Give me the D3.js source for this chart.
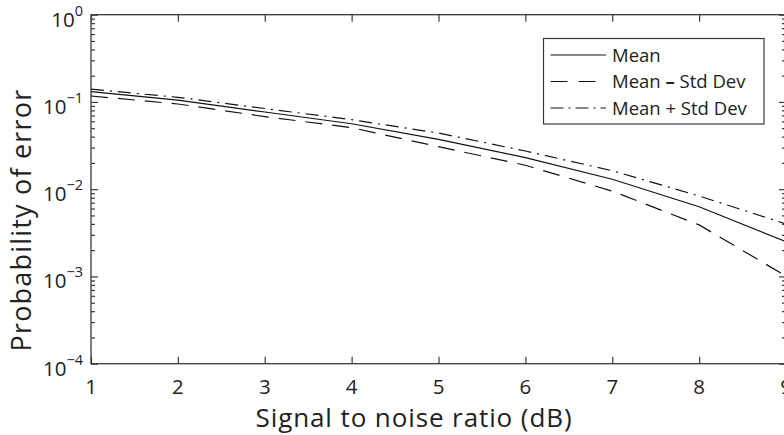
<!DOCTYPE html>
<html><head><meta charset="utf-8">
<script src="https://cdn.jsdelivr.net/npm/d3@7"></script>
<style>
body{margin:0;background:#fff;overflow:hidden}
text{font-family:"Open Sans",sans-serif;fill:#222}
</style>
</head><body>
<svg id="c" width="784" height="435"></svg>
<script>
// ---- data ----
const snrDb      = [1, 2, 3, 4, 5, 6, 7, 8, 9];
const meanVals   = [0.131, 0.105, 0.0767, 0.0563, 0.0373, 0.0230, 0.0130, 0.0063, 0.0025];
const minusVals  = [0.117, 0.0948, 0.068, 0.0507, 0.0307, 0.0188, 0.0095, 0.0039, 0.00101];
const plusVals   = [0.140, 0.113, 0.0841, 0.0626, 0.0440, 0.0274, 0.0163, 0.00836, 0.0040];
const xTicks     = [1, 2, 3, 4, 5, 6, 7, 8, 9];
const yTickExps  = [0, -1, -2, -3, -4];
const seriesNames = ["Mean", "Mean – Std Dev", "Mean + Std Dev"];

// ---- layout ----
const L = 91, R = 786, T = 14.7, B = 363.7;
const svg = d3.select("#c");
const x = d3.scaleLinear().domain([1, 9]).range([L, R]);
const y = d3.scaleLog().domain([1e-4, 1]).range([B, T]);

const majorY = yTickExps.map(e => Math.pow(10, e));
const minorY = [];
for (let e = -4; e < 0; e++) for (let m = 2; m <= 9; m++) minorY.push(m * Math.pow(10, e));

const axisColor = "#3a3a3a";
function styleAxis(g) {
  g.select(".domain").remove();
  g.selectAll(".tick line").attr("stroke", axisColor).attr("stroke-width", 1.2);
  g.selectAll(".tick text").remove();
}

// frame
svg.append("rect").attr("x", L).attr("y", T).attr("width", R - L).attr("height", B - T)
  .attr("fill", "none").attr("stroke", axisColor).attr("stroke-width", 1.3);

// x ticks bottom and top (inward)
svg.append("g").attr("transform", `translate(0,${B})`)
  .call(d3.axisTop(x).tickValues(xTicks).tickSize(7)).call(styleAxis);
svg.append("g").attr("transform", `translate(0,${T})`)
  .call(d3.axisBottom(x).tickValues(xTicks).tickSize(7)).call(styleAxis);
// y ticks left and right (inward)
svg.append("g").attr("transform", `translate(${L},0)`)
  .call(d3.axisRight(y).tickValues(majorY).tickSize(7)).call(styleAxis);
svg.append("g").attr("transform", `translate(${L},0)`)
  .call(d3.axisRight(y).tickValues(minorY).tickSize(4)).call(styleAxis);
svg.append("g").attr("transform", `translate(${R},0)`)
  .call(d3.axisLeft(y).tickValues(majorY).tickSize(7)).call(styleAxis);
svg.append("g").attr("transform", `translate(${R},0)`)
  .call(d3.axisLeft(y).tickValues(minorY).tickSize(4)).call(styleAxis);

// x tick labels
svg.append("g").selectAll("text").data(xTicks).join("text")
  .attr("x", d => x(d)).attr("y", B + 30)
  .attr("text-anchor", "middle").attr("font-size", 20.5)
  .text(d => d);

// y tick labels 10^e
const yl = svg.append("g").selectAll("text").data(yTickExps).join("text")
  .attr("x", 83).attr("y", d => y(Math.pow(10, d)) + 12)
  .attr("text-anchor", "end").attr("font-size", 20.5);
yl.append("tspan").text("10");
yl.append("tspan").attr("dy", -11).attr("font-size", 14.5)
  .text(d => d === 0 ? "0" : "−" + Math.abs(d));

// axis titles
svg.append("text").attr("x", 414).attr("y", 427).attr("text-anchor", "middle")
  .attr("font-size", 26).attr("letter-spacing", 0.9).text("Signal to noise ratio (dB)");
svg.append("text").attr("transform", "translate(31,220) rotate(-90)")
  .attr("text-anchor", "middle").attr("font-size", 27).attr("letter-spacing", 1.2)
  .text("Probability of error");

// clip
svg.append("clipPath").attr("id", "clip").append("rect")
  .attr("x", L).attr("y", T).attr("width", R - L).attr("height", B - T);

const dashes = [null, "17,10", "13,6,2,6"];
const allSeries = [meanVals, minusVals, plusVals];
const line = d3.line().x((d, i) => x(snrDb[i])).y(d => y(d));
const lg = svg.append("g").attr("clip-path", "url(#clip)");
allSeries.forEach((vals, k) => {
  lg.append("path").datum(vals).attr("d", line)
    .attr("fill", "none").attr("stroke", "#111").attr("stroke-width", 1.2)
    .attr("stroke-dasharray", dashes[k]);
});

// legend
const legX = 543.5, legY = 38.5, legW = 220.5, legH = 85.5;
svg.append("rect").attr("x", legX).attr("y", legY).attr("width", legW).attr("height", legH)
  .attr("fill", "#fff").attr("stroke", axisColor).attr("stroke-width", 1.2);
const legDash = [null, "17,11", "13,5,2,5"];
seriesNames.forEach((name, k) => {
  const cy = 55 + k * 26.5;
  svg.append("line").attr("x1", 550.5).attr("x2", 606).attr("y1", cy).attr("y2", cy)
    .attr("stroke", "#111").attr("stroke-width", 1.2).attr("stroke-dasharray", legDash[k]);
  const t = svg.append("text").attr("x", 612).attr("y", cy + 6.5).attr("font-size", 18.5);
  if (name.includes("–")) {
    const parts = name.split("–");
    t.append("tspan").text(parts[0]);
    t.append("tspan").attr("font-weight", "bold").text("–");
    t.append("tspan").text(parts[1]);
  } else t.text(name);
});
</script>
</body></html>
